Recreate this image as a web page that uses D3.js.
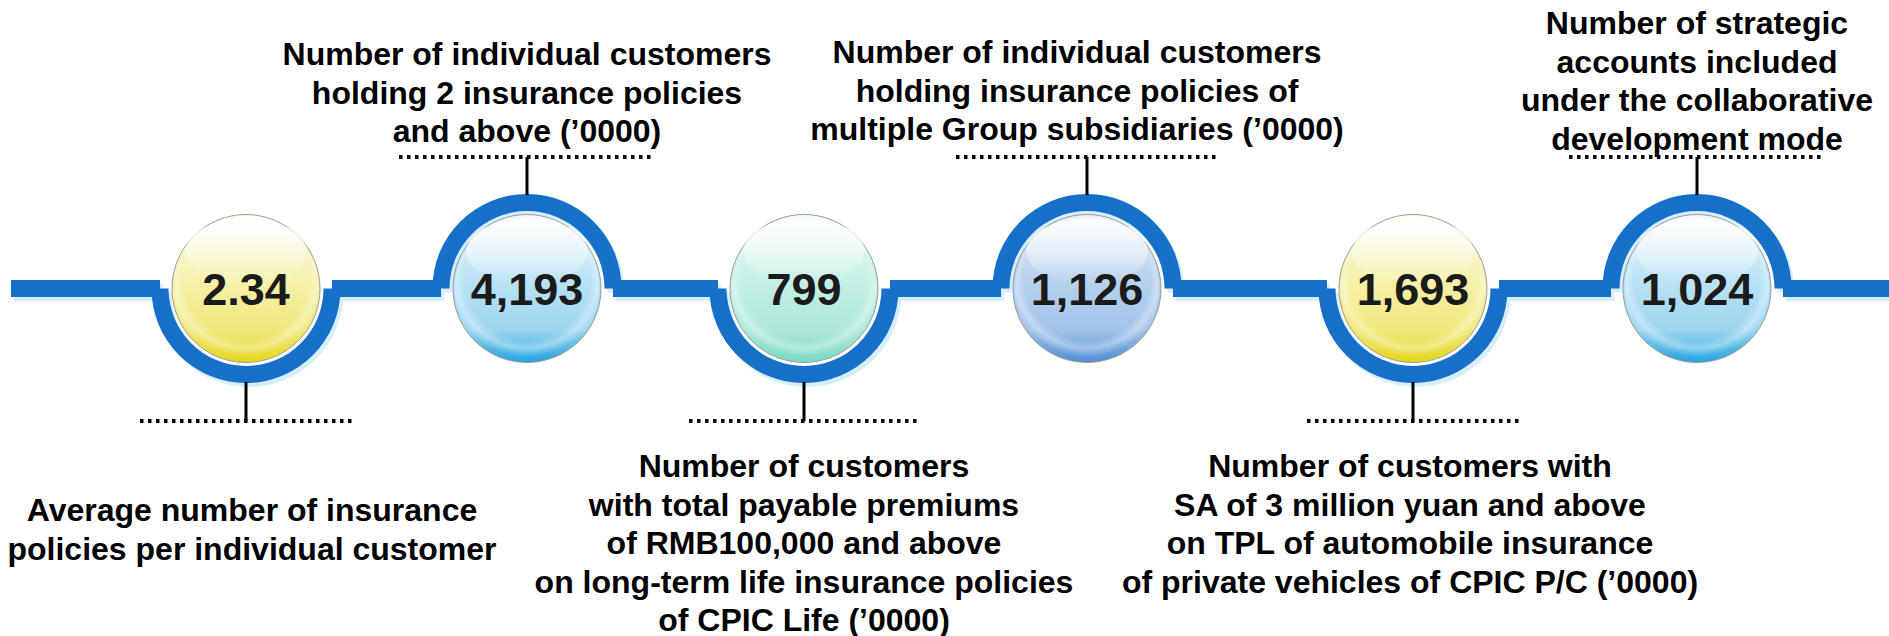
<!DOCTYPE html>
<html>
<head>
<meta charset="utf-8">
<script src="https://cdn.jsdelivr.net/npm/d3@7/dist/d3.min.js"></script>
<style>
    html, body { margin: 0; padding: 0; background: #fff; }
    svg { display: block; }
    .label { font-family: Arial, "Liberation Sans", sans-serif; font-weight: bold; font-size: 32px; fill: #000; }
    .value { font-family: Arial, "Liberation Sans", sans-serif; font-weight: bold; font-size: 45px; fill: #1b1b1b; }
</style>
</head>
<body>
<svg id="chart"></svg>
<script>
// values shown in the bubbles
const values = [2.34, 4193, 799, 1126, 1693, 1024];

// captions, one array of lines per bubble
const captions = [
    ['Average number of insurance', 'policies per individual customer'],
    ['Number of individual customers', 'holding 2 insurance policies', 'and above (\u20190000)'],
    ['Number of customers', 'with total payable premiums', 'of RMB100,000 and above',
        'on long-term life insurance policies', 'of CPIC Life (\u20190000)'],
    ['Number of individual customers', 'holding insurance policies of', 'multiple Group subsidiaries (\u20190000)'],
    ['Number of customers with', 'SA of 3 million yuan and above', 'on TPL of automobile insurance',
        'of private vehicles of CPIC P/C (\u20190000)'],
    ['Number of strategic', 'accounts included', 'under the collaborative', 'development mode']
];

// which side of the line the caption sits on
const sides = ['below', 'above', 'below', 'above', 'below', 'above'];

class Timeline {
    constructor(_config) {
        this.config = {
            parentElement: _config.parentElement,
            containerWidth: 1889,
            containerHeight: 636,
            lineY: 288.5,
            lineStart: 11,
            lineThickness: 17,
            ringRadius: 86,
            bubbleRadius: 74,
            // layout of the bubbles along the line
            slots: [246, 527, 804, 1087, 1413, 1697],
            captionShift: [6, 0, 0, -10, -3, 0],
            firstBaseline: [521, 65, 477, 63, 477, 34],
            lineHeight: 38.5,
            dotY: {below: 421, above: 157},
            dotHalf: [106, 128, 115, 131, 106, 128],
            palettes: [
                ['#fffdf0', '#f7f2b4', '#f0e87c', '#e3d81a'],
                ['#f3fafe', '#c0e5f6', '#9dd6f0', '#22a3de'],
                ['#f4fdfb', '#c9f1e8', '#ade8db', '#7bd7c3'],
                ['#edf4fc', '#bcd5ef', '#a2c3e8', '#4f8dd4'],
                ['#fffdf0', '#f7f2b4', '#f0e87c', '#e3d81a'],
                ['#f3fafe', '#c0e5f6', '#9dd6f0', '#22a3de']
            ],
            ringColor: '#1670c9',
            shadowColor: '#d5eefa'
        };
        this.initVis();
    }

    initVis() {
        let vis = this;
        const c = vis.config;

        vis.svg = d3.select(c.parentElement)
            .attr('width', c.containerWidth)
            .attr('height', c.containerHeight);

        vis.defs = vis.svg.append('defs');

        vis.x = d3.scaleOrdinal()
            .domain(d3.range(values.length))
            .range(c.slots);

        vis.arcDown = d3.arc()
            .innerRadius(c.ringRadius - c.lineThickness / 2)
            .outerRadius(c.ringRadius + c.lineThickness / 2)
            .startAngle(Math.PI / 2)
            .endAngle(Math.PI * 1.5);

        vis.arcUp = d3.arc()
            .innerRadius(c.ringRadius - c.lineThickness / 2)
            .outerRadius(c.ringRadius + c.lineThickness / 2)
            .startAngle(-Math.PI / 2)
            .endAngle(Math.PI / 2);

        vis.fmt = d3.format(',');

        // one gradient per bubble
        c.palettes.forEach((p, i) => {
            const g = vis.defs.append('linearGradient')
                .attr('id', `fill-${i}`)
                .attr('x1', 0).attr('y1', 0).attr('x2', 0).attr('y2', 1);
            [0, 0.38, 0.78, 1].forEach((o, k) => {
                g.append('stop').attr('offset', o).attr('stop-color', p[k]);
            });
        });

        const gloss = vis.defs.append('linearGradient')
            .attr('id', 'gloss')
            .attr('x1', 0).attr('y1', 0).attr('x2', 0).attr('y2', 1);
        gloss.append('stop').attr('offset', 0).attr('stop-color', '#fff').attr('stop-opacity', 0.9);
        gloss.append('stop').attr('offset', 1).attr('stop-color', '#fff').attr('stop-opacity', 0);

        const rim = vis.defs.append('radialGradient')
            .attr('id', 'rim')
            .attr('cx', 0.5).attr('cy', 0.42).attr('r', 0.55);
        rim.append('stop').attr('offset', 0.8).attr('stop-color', '#fff').attr('stop-opacity', 0);
        rim.append('stop').attr('offset', 0.9).attr('stop-color', '#fff').attr('stop-opacity', 0.35);
        rim.append('stop').attr('offset', 1).attr('stop-color', '#fff').attr('stop-opacity', 0);

        vis.shadow = vis.svg.append('g')
            .attr('transform', 'translate(3,4)')
            .attr('fill', c.shadowColor);
        vis.track = vis.svg.append('g').attr('fill', c.ringColor);
        vis.links = vis.svg.append('g');
        vis.bubbles = vis.svg.append('g');
        vis.captions = vis.svg.append('g');

        vis.renderVis();
    }

    renderVis() {
        let vis = this;
        const c = vis.config;
        const n = values.length;

        // straight pieces of the line between the rings
        const pieces = d3.range(n + 1).map(i => ({
            x0: i === 0 ? c.lineStart : vis.x(i - 1) + c.ringRadius,
            x1: i === n ? c.containerWidth : vis.x(i) - c.ringRadius
        }));

        [vis.shadow, vis.track].forEach(layer => {
            layer.selectAll('rect')
                .data(pieces)
                .join('rect')
                .attr('x', d => d.x0)
                .attr('y', c.lineY - c.lineThickness / 2)
                .attr('width', d => d.x1 - d.x0)
                .attr('height', c.lineThickness);

            layer.selectAll('path')
                .data(d3.range(n))
                .join('path')
                .attr('transform', i => `translate(${vis.x(i)},${c.lineY})`)
                .attr('d', i => sides[i] === 'below' ? vis.arcDown() : vis.arcUp());
        });

        // leader lines and dotted rules
        const outer = c.ringRadius + c.lineThickness / 2;
        vis.links.selectAll('line.stem')
            .data(d3.range(n))
            .join('line')
            .attr('class', 'stem')
            .attr('x1', i => vis.x(i))
            .attr('x2', i => vis.x(i))
            .attr('y1', i => sides[i] === 'below' ? c.lineY + outer - 1 : c.lineY - outer + 1)
            .attr('y2', i => c.dotY[sides[i]])
            .attr('stroke', '#000')
            .attr('stroke-width', 3);

        vis.links.selectAll('line.dots')
            .data(d3.range(n))
            .join('line')
            .attr('class', 'dots')
            .attr('x1', i => vis.x(i) - c.dotHalf[i])
            .attr('x2', i => vis.x(i) + c.dotHalf[i])
            .attr('y1', i => c.dotY[sides[i]])
            .attr('y2', i => c.dotY[sides[i]])
            .attr('stroke', '#000')
            .attr('stroke-width', 4)
            .attr('stroke-dasharray', '3.5 4.5');

        // bubbles
        const bubble = vis.bubbles.selectAll('g.bubble')
            .data(values)
            .join('g')
            .attr('class', 'bubble')
            .attr('transform', (d, i) => `translate(${vis.x(i)},${c.lineY})`);

        bubble.append('circle')
            .attr('r', c.bubbleRadius)
            .attr('fill', (d, i) => `url(#fill-${i})`)
            .attr('stroke', '#9a9a9a')
            .attr('stroke-width', 1);

        bubble.append('circle')
            .attr('r', c.bubbleRadius - 2)
            .attr('fill', 'url(#rim)');

        bubble.append('ellipse')
            .attr('cy', -c.bubbleRadius * 0.5)
            .attr('rx', c.bubbleRadius * 0.82)
            .attr('ry', c.bubbleRadius * 0.45)
            .attr('fill', 'url(#gloss)');

        bubble.append('text')
            .attr('class', 'value')
            .attr('text-anchor', 'middle')
            .attr('y', 16)
            .text(d => vis.fmt(d));

        // captions
        vis.captions.selectAll('text')
            .data(captions)
            .join('text')
            .attr('class', 'label')
            .attr('text-anchor', 'middle')
            .each(function(lines, i) {
                d3.select(this).selectAll('tspan')
                    .data(lines)
                    .join('tspan')
                    .attr('x', vis.x(i) + c.captionShift[i])
                    .attr('y', (l, k) => c.firstBaseline[i] + k * c.lineHeight)
                    .text(l => l);
            });
    }
}

new Timeline({parentElement: '#chart'});
</script>
</body>
</html>
